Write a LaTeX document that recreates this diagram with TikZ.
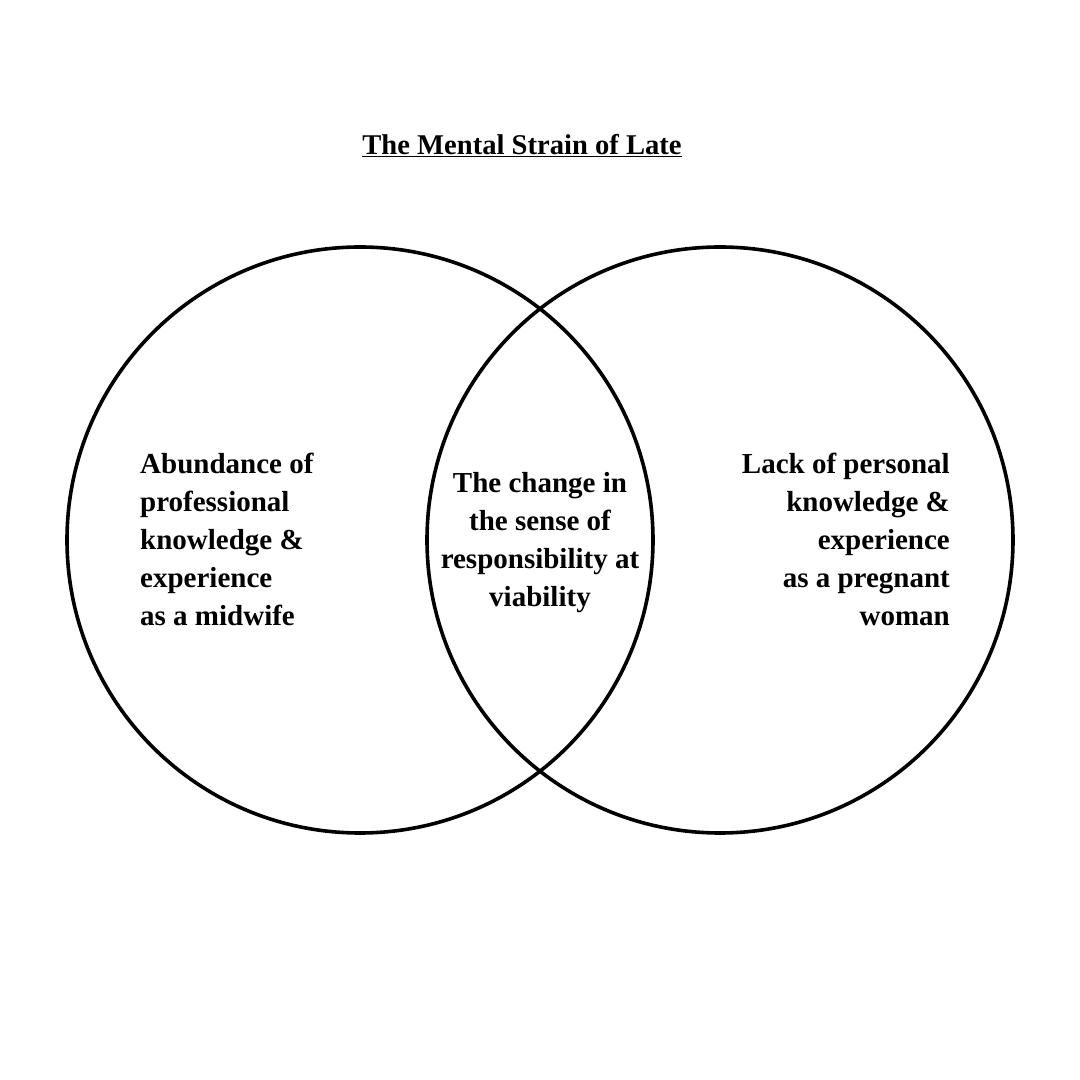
\documentclass[tikz,border=0pt]{standalone}
\usepackage{fontspec}
\setmainfont{Liberation Serif}

\begin{document}
\begin{tikzpicture}[x=1pt,y=1pt,
    ring/.style={draw,circle,line width=3.6pt,minimum size=586pt,inner sep=0pt},
    words/.style={inner sep=0pt,font=\fontsize{29}{38}\selectfont\bfseries}]
                \useasboundingbox (0,0) rectangle (1080,1080);
                \node[words,font=\fontsize{28.6}{34}\selectfont\bfseries,anchor=base] (title) at (522,925) {\underline{The Mental Strain of Late}};
                \node[ring] (midwife) at (360,540) {};
                \node[ring] (mother) at (720,540) {};
                \node[words,align=left,anchor=north west] (left) at (140,627) {Abundance of\\professional\\knowledge \&\\experience\\as a midwife};
                \node[words,align=center,anchor=north] (middle) at (540,608) {The change in\\the sense of\\responsibility at\\viability};
                \node[words,align=right,anchor=north east] (right) at (950,627) {Lack of personal\\knowledge \&\\experience\\as a pregnant\\woman};
            \end{tikzpicture}
\end{document}
